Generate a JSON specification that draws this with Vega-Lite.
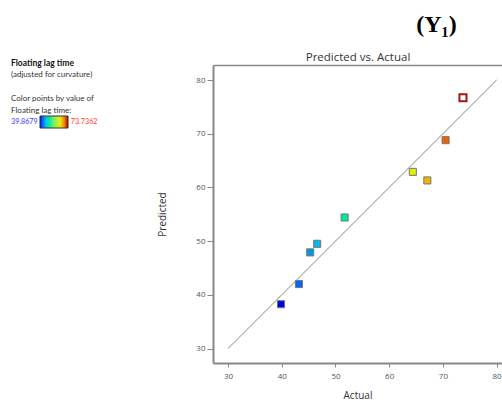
{
  "$schema": "https://vega.github.io/schema/vega-lite/v6.json",
  "width": 289,
  "height": 298,
  "autosize": {"type": "none"},
  "padding": {"left": 213, "top": 65, "right": 0, "bottom": 42},
  "background": "white",
  "title": {
    "text": "Floating lag time",
    "subtitle": ["(adjusted for curvature)", "\u2800", "Color points by value of", "Floating lag time:"],
    "anchor": "start",
    "frame": "group",
    "dx": -202,
    "offset": -103,
    "font": "Lato",
    "fontSize": 8.5,
    "fontWeight": "bold",
    "color": "#111",
    "subtitleFont": "Lato",
    "subtitleFontSize": 8,
    "subtitleColor": "#333",
    "subtitleLineHeight": 12,
    "subtitlePadding": 4
  },
  "datasets": {
    "line": [{"v": 30}, {"v": 80}],
    "points": [
      {"Actual": 39.8679, "Predicted": 38.25},
      {"Actual": 43.2, "Predicted": 42.0},
      {"Actual": 45.3, "Predicted": 47.9},
      {"Actual": 46.6, "Predicted": 49.5},
      {"Actual": 51.7, "Predicted": 54.4},
      {"Actual": 64.4, "Predicted": 62.9},
      {"Actual": 67.1, "Predicted": 61.3},
      {"Actual": 70.5, "Predicted": 68.8},
      {"Actual": 73.7362, "Predicted": 76.7}
    ]
  },
  "config": {
    "view": {"stroke": null},
    "axis": {
      "grid": false,
      "labelFont": "Open Sans",
      "labelFontSize": 8,
      "labelColor": "#555",
      "titleFont": "Open Sans",
      "titleFontSize": 10,
      "titleFontWeight": "normal",
      "titleColor": "#333",
      "domainColor": "#888",
      "domainWidth": 2,
      "tickColor": "#888",
      "tickWidth": 1
    }
  },
  "layer": [
    {
      "data": {"name": "line"},
      "mark": {"type": "line", "color": "#888", "strokeWidth": 1},
      "encoding": {
        "x": {
          "field": "v",
          "type": "quantitative",
          "scale": {"domain": [27.2, 81], "nice": false, "zero": false},
          "axis": {"orient": "bottom", "title": "Actual", "values": [30, 40, 50, 60, 70, 80], "tickSize": 4, "labelPadding": 5, "titlePadding": 10}
        },
        "y": {
          "field": "v",
          "type": "quantitative",
          "scale": {"domain": [27.3, 82.8], "nice": false, "zero": false},
          "axis": {"orient": "left", "title": "Predicted", "values": [30, 40, 50, 60, 70, 80], "tickSize": 6, "labelPadding": 2, "titlePadding": 28}
        }
      }
    },
    {
      "data": {"name": "points"},
      "mark": {"type": "point", "shape": "square", "filled": true, "size": 50, "opacity": 1},
      "encoding": {
        "x": {
          "field": "Actual",
          "type": "quantitative",
          "axis": {"orient": "top", "labels": false, "ticks": false, "domain": true, "domainWidth": 1.5, "title": "Predicted vs. Actual", "titleFontSize": 11.5, "titlePadding": 3}
        },
        "y": {
          "field": "Predicted",
          "type": "quantitative",
          "axis": {"orient": "right", "labels": false, "ticks": false, "domain": false, "title": "(Y₁)", "titleAngle": 0, "titleX": -66, "titleY": -41, "titleAlign": "center", "titleBaseline": "middle", "titleFont": "Liberation Serif", "titleFontSize": 24, "titleFontWeight": "bold", "titleColor": "#000"}
        },
        "fill": {
          "condition": {"test": "datum.Actual > 73.7", "value": "white"},
          "field": "Actual",
          "type": "quantitative",
          "scale": {
            "domain": [39.8679, 43.2, 45.3, 46.6, 51.7, 64.4, 67.1, 70.5, 73.7362],
            "range": ["#0000e6", "#0066ff", "#0099e0", "#00bbf0", "#00e890", "#e0f000", "#f0b400", "#f06000", "#8b0000"]
          },
          "legend": {
            "orient": "none",
            "legendX": -202,
            "legendY": 51,
            "direction": "horizontal",
            "title": "39.8679",
            "titleOrient": "left",
            "titleFont": "Lato",
            "titleFontSize": 7.2,
            "titleFontWeight": "normal",
            "titleColor": "#3a3aff",
            "titleBaseline": "middle",
            "titlePadding": 2,
            "padding": 0,
            "gradientLength": 28,
            "gradientThickness": 12,
            "gradientStrokeColor": "#333",
            "gradientStrokeWidth": 1,
            "values": [109.4],
            "labelExpr": "'73.7362'",
            "labelColor": "#ff3a3a",
            "labelFont": "Lato",
            "labelFontSize": 7.2,
            "labelOffset": -10,
            "labelOverlap": false
          }
        },
        "stroke": {
          "condition": {"test": "datum.Actual > 73.7", "value": "#a01818"},
          "value": "#777"
        },
        "strokeWidth": {
          "condition": {"test": "datum.Actual > 73.7", "value": 2},
          "value": 1
        }
      }
    }
  ],
  "resolve": {"axis": {"x": "independent", "y": "independent"}}
}
